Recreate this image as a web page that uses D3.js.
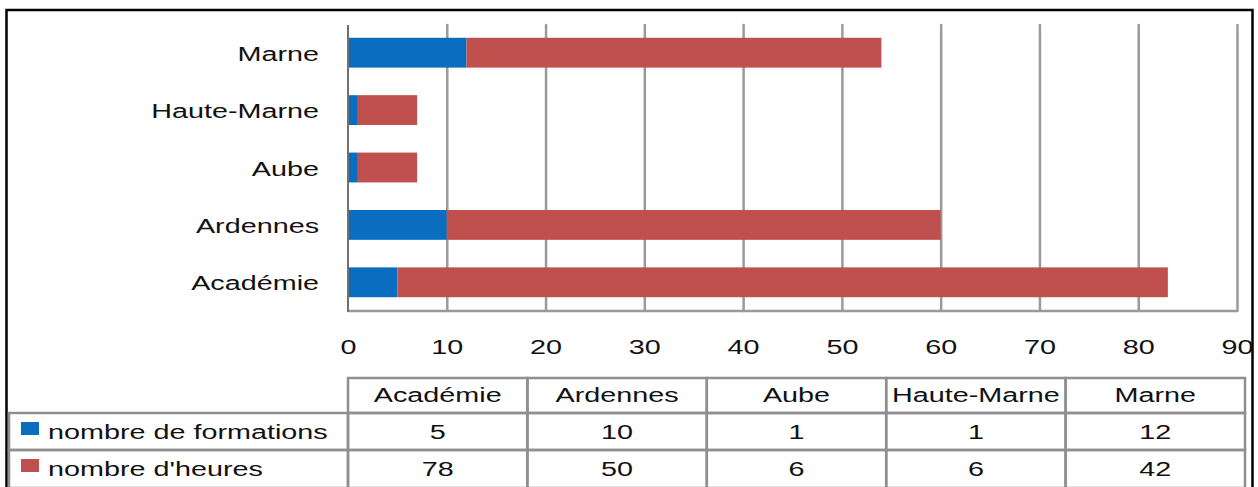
<!DOCTYPE html>
<html>
<head>
<meta charset="utf-8">
<script src="https://cdn.jsdelivr.net/npm/d3@7"></script>
<style>
  html, body { margin: 0; padding: 0; background: #fff; }
  svg { display: block; font-family: "Liberation Sans", Arial, Helvetica, sans-serif; }
</style>
</head>
<body>
<svg id="chart" width="1258" height="487"></svg>
<script>
// Formations par département (académie de Reims)
const categories = ["Académie", "Ardennes", "Aube", "Haute-Marne", "Marne"];
const formations = [5, 10, 1, 1, 12];
const heures = [78, 50, 6, 6, 42];
const seriesNames = ["nombre de formations", "nombre d'heures"];
const xTicks = [0, 10, 20, 30, 40, 50, 60, 70, 80, 90];

const colors = ["#0b6dbf", "#c0504d"];
const SX = 1.37;          // horizontal stretch of the type
const FONT = 21;

const svg = d3.select("#chart");

// outer frame
svg.append("rect")
  .attr("x", 6.5).attr("y", 10)
  .attr("width", 1246).attr("height", 500)
  .attr("fill", "none").attr("stroke", "#000").attr("stroke-width", 2.5);

const x = d3.scaleLinear().domain([0, 90]).range([348, 1237]);
const y = d3.scaleBand()
  .domain(categories.slice().reverse())
  .range([24, 311])
  .paddingInner(0.48)
  .paddingOuter(0.24);

const plotTop = 25, plotBottom = 311;

// vertical grid
svg.append("g")
  .attr("transform", `translate(0,${plotBottom})`)
  .call(d3.axisBottom(x).tickValues(xTicks.slice(1)).tickSize(-(plotBottom - plotTop)).tickFormat(""))
  .call(g => g.select(".domain").remove())
  .call(g => g.selectAll("line").attr("stroke", "#9a9a9a").attr("stroke-width", 2.5).attr("stroke-linecap", "round"));

// bottom baseline
svg.append("line")
  .attr("x1", x(0)).attr("x2", x(90))
  .attr("y1", plotBottom).attr("y2", plotBottom)
  .attr("stroke", "#999").attr("stroke-width", 2.5);

// stacked bars
const rows = categories.map((c, i) => ({ cat: c, f: formations[i], h: heures[i] }));
const stack = d3.stack().keys(["f", "h"])(rows);
svg.append("g").selectAll("g")
  .data(stack).join("g")
  .attr("fill", (d, i) => colors[i])
  .selectAll("rect")
  .data(d => d).join("rect")
  .attr("x", d => x(d[0]))
  .attr("width", d => x(d[1]) - x(d[0]))
  .attr("y", d => y(d.data.cat))
  .attr("height", y.bandwidth());

// left axis line
svg.append("line")
  .attr("x1", x(0)).attr("x2", x(0))
  .attr("y1", plotTop).attr("y2", plotBottom + 1)
  .attr("stroke", "#707070").attr("stroke-width", 2);

// x tick labels
svg.append("g")
  .attr("transform", `translate(0,${plotBottom})`)
  .call(d3.axisBottom(x).tickValues(xTicks).tickSize(0).tickPadding(0))
  .call(g => g.select(".domain").remove())
  .call(g => g.selectAll("text")
    .attr("y", 43).attr("dy", null)
    .attr("font-size", FONT).attr("font-family", null)
    .attr("fill", "#111")
    .attr("transform", `scale(${SX},1)`));

// category labels
svg.append("g")
  .attr("transform", `translate(${x(0)},0)`)
  .call(d3.axisLeft(y).tickSize(0).tickPadding(0))
  .call(g => g.select(".domain").remove())
  .call(g => g.selectAll("text")
    .attr("x", -29 / SX).attr("dy", null).attr("y", 8)
    .attr("font-size", FONT).attr("font-family", null)
    .attr("fill", "#111")
    .attr("transform", `scale(${SX},1)`));

// data table
const col = d3.scaleBand().domain(categories).range([348, 1245]);
const rowTop = [378, 413, 450];
const rowBottom = [413, 450, 488];
const legendLeft = 9;
const cellStroke = "#8f8f8f";
const table = svg.append("g");

function stretchedText(g, tx, ty, txt, anchor) {
  g.append("text")
    .attr("transform", `translate(${tx},${ty}) scale(${SX},1)`)
    .attr("text-anchor", anchor)
    .attr("font-size", FONT)
    .attr("fill", "#111")
    .text(txt);
}

// header cells
categories.forEach(c => {
  table.append("rect")
    .attr("x", col(c)).attr("y", rowTop[0])
    .attr("width", col.bandwidth()).attr("height", rowBottom[0] - rowTop[0])
    .attr("fill", "none").attr("stroke", cellStroke).attr("stroke-width", 2.5);
  stretchedText(table, col(c) + col.bandwidth() / 2, rowTop[0] + 24, c, "middle");
});

// value rows with legend cells
[formations, heures].forEach((vals, r) => {
  const top = rowTop[r + 1], bot = rowBottom[r + 1];
  table.append("rect")
    .attr("x", legendLeft).attr("y", top)
    .attr("width", 348 - legendLeft).attr("height", bot - top)
    .attr("fill", "none").attr("stroke", cellStroke).attr("stroke-width", 2.5);
  table.append("rect")
    .attr("x", 21).attr("y", top + 9)
    .attr("width", 18).attr("height", 13)
    .attr("fill", colors[r]);
  stretchedText(table, 48, top + 26, seriesNames[r], "start");
  categories.forEach((c, i) => {
    table.append("rect")
      .attr("x", col(c)).attr("y", top)
      .attr("width", col.bandwidth()).attr("height", bot - top)
      .attr("fill", "none").attr("stroke", cellStroke).attr("stroke-width", 2.5);
    stretchedText(table, col(c) + col.bandwidth() / 2, top + 26, vals[i], "middle");
  });
});
</script>
</body>
</html>
